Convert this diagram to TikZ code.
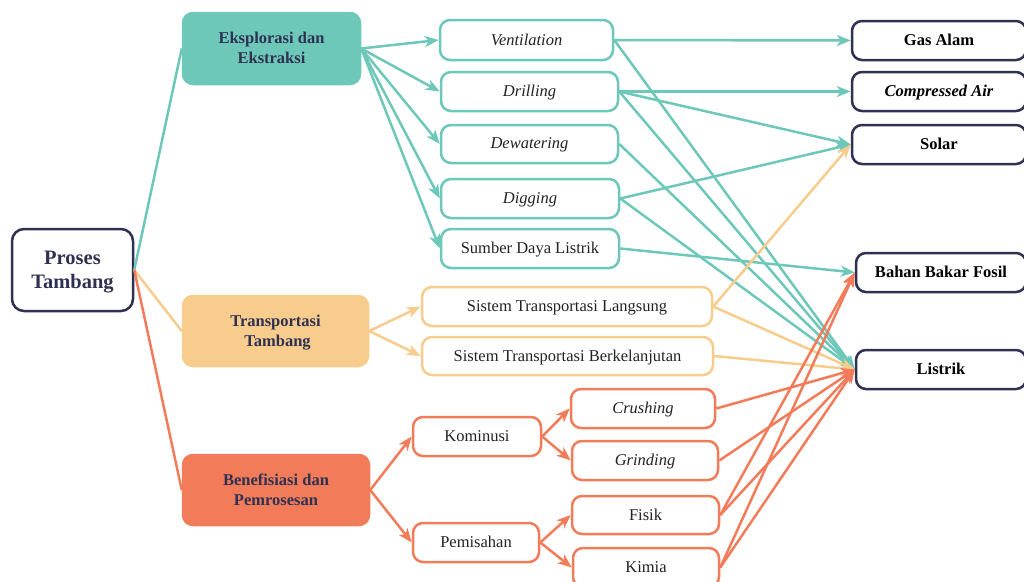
\documentclass[tikz,border=0pt]{standalone}
\usepackage{fontspec}
\setmainfont{Liberation Serif}
\usetikzlibrary{arrows.meta}
\definecolor{teal1}{HTML}{6DC8B9}
\definecolor{yel1}{HTML}{F7CC8C}
\definecolor{ora1}{HTML}{F27C5A}
\definecolor{navy1}{HTML}{2F3152}
\definecolor{txt1}{HTML}{222222}
\begin{document}
\begin{tikzpicture}[x=1pt,y=-1pt,
  base/.style={rounded corners=10pt,line width=2.5pt,inner sep=0pt,align=center,font=\fontsize{16.5}{18}\selectfont,text=txt1,text depth=1pt},
  cat/.style={base,text=navy1,font=\fontsize{16.5}{20}\bfseries\selectfont},
  tbox/.style={base,draw=teal1,fill=white},
  ybox/.style={base,draw=yel1,fill=white},
  obox/.style={base,draw=ora1,fill=white},
  nbox/.style={base,draw=navy1,fill=white,font=\fontsize{16.5}{18}\bfseries\selectfont,text=black},
  tl/.style={draw=teal1,line width=2.5pt},
  yl/.style={draw=yel1,line width=2.5pt},
  ol/.style={draw=ora1,line width=2.5pt},
  arr/.style={-{Stealth[length=14pt,width=11pt,inset=4pt]}},
]
\useasboundingbox (0,0) rectangle (1024,581);
% category boxes
\node[cat,fill=teal1,draw=teal1,minimum width=177pt,minimum height=71pt] (eks) at (271.5,48.5) {Eksplorasi dan\\Ekstraksi};
\node[cat,fill=yel1,draw=yel1,minimum width=185pt,minimum height=70pt] (tra) at (275.5,331) {Transportasi\\\ Tambang};
\node[cat,fill=ora1,draw=ora1,minimum width=186pt,minimum height=70pt] (ben) at (276,490) {Benefisiasi dan\\Pemrosesan};
\node[base,draw=navy1,fill=white,text=navy1,font=\fontsize{20.5}{24}\bfseries\selectfont,minimum width=121pt,minimum height=82pt,rounded corners=12pt] (root) at (72.5,270) {Proses\\Tambang};
% teal level
\node[tbox,minimum width=173pt,minimum height=40pt] (ven) at (526.5,40) {\itshape Ventilation};
\node[tbox,minimum width=177pt,minimum height=39pt] (dri) at (529.5,91.5) {\itshape Drilling};
\node[tbox,minimum width=177pt,minimum height=38pt] (dew) at (529.5,144) {\itshape Dewatering};
\node[tbox,minimum width=178pt,minimum height=39pt] (dig) at (530,198.5) {\itshape Digging};
\node[tbox,minimum width=178pt,minimum height=39pt] (sum) at (530,248.5) {Sumber Daya Listrik};
% yellow level
\node[ybox,minimum width=290pt,minimum height=39pt] (lan) at (567,306.5) {Sistem Transportasi Langsung};
\node[ybox,minimum width=291pt,minimum height=38pt] (ber) at (567.5,356) {Sistem Transportasi Berkelanjutan};
% orange level
\node[obox,minimum width=128pt,minimum height=39pt] (kom) at (477,436.5) {Kominusi};
\node[obox,minimum width=126pt,minimum height=39pt] (pem) at (476,542.5) {Pemisahan};
\node[obox,minimum width=144pt,minimum height=39pt] (cru) at (643,408.5) {\itshape Crushing};
\node[obox,minimum width=146pt,minimum height=39pt] (gri) at (645,460.5) {\itshape Grinding};
\node[obox,minimum width=147pt,minimum height=38pt] (fis) at (645.5,515) {Fisik};
\node[obox,minimum width=146pt,minimum height=39pt] (kim) at (646,567.5) {Kimia};
% energy
\node[nbox,minimum width=174pt,minimum height=39pt] (gas) at (939,40.5) {Gas Alam};
\node[nbox,minimum width=174pt,minimum height=39pt] (com) at (939,91.5) {\itshape Compressed Air};
\node[nbox,minimum width=174pt,minimum height=39pt] (sol) at (939,144.5) {Solar};
\node[nbox,minimum width=170pt,minimum height=39pt] (bbf) at (941,272.5) {Bahan Bakar Fosil};
\node[nbox,minimum width=170pt,minimum height=39pt] (lis) at (941,369.5) {Listrik};
% root links
\draw[tl] (root.east) -- (eks.west);
\draw[yl] (root.east) -- (tra.west);
\draw[ol] (root.east) -- (ben.west);
% teal
\foreach \t in {ven,dri,dew,dig,sum} \draw[tl,arr] (eks.east) -- (\t.west);
\draw[tl,arr] (ven.east) -- (gas.west);
\draw[tl,arr] (dri.east) -- (com.west);
\draw[tl,arr] (dri.east) -- (sol.west);
\draw[tl,arr] (dig.east) -- (sol.west);
\draw[tl,arr] (sum.east) -- (bbf.west);
\foreach \s in {ven,dri,dew,dig} \draw[tl,arr] (\s.east) -- (lis.west);
% yellow
\draw[yl,arr] (tra.east) -- (lan.west);
\draw[yl,arr] (tra.east) -- (ber.west);
\draw[yl,arr] (lan.east) -- (sol.west);
\draw[yl,arr] (lan.east) -- (lis.west);
\draw[yl,arr] (ber.east) -- (lis.west);
% orange
\draw[ol,arr] (ben.east) -- (kom.west);
\draw[ol,arr] (ben.east) -- (pem.west);
\draw[ol,arr] (kom.east) -- (cru.west);
\draw[ol,arr] (kom.east) -- (gri.west);
\draw[ol,arr] (pem.east) -- (fis.west);
\draw[ol,arr] (pem.east) -- (kim.west);
\foreach \s in {cru,gri,fis,kim} \draw[ol,arr] (\s.east) -- (lis.west);
\draw[ol,arr] (fis.east) -- (bbf.west);
\draw[ol,arr] (kim.east) -- (bbf.west);
\end{tikzpicture}
\end{document}
